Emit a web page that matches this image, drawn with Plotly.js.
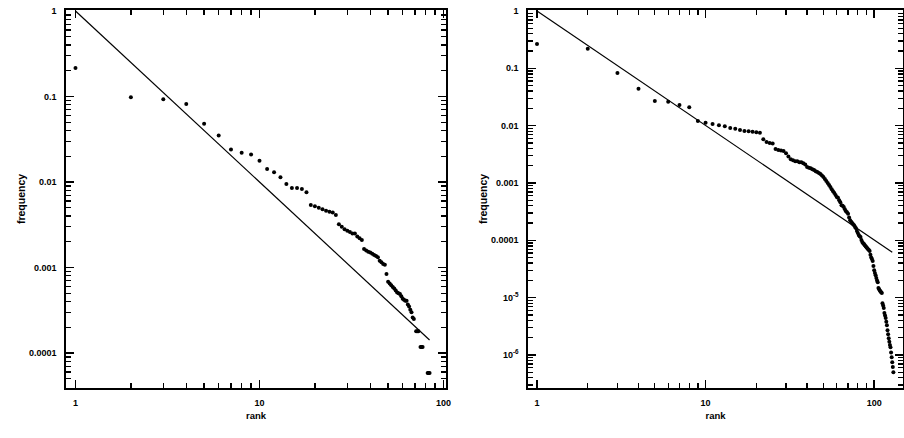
<!DOCTYPE html>
<html>
<head>
<meta charset="utf-8">
<script src="https://cdn.plot.ly/plotly-3.0.1.min.js"></script>
<style>html,body{margin:0;padding:0;background:#fff;}#chart{width:904px;height:438px;}</style>
</head>
<body>
<div id="chart"></div>
<script>
// ---- Left panel data ----
const leftRank = [1,2,3,4,5,6,7,8,9,10,11,12,13,14,15,16,17,18,19,20,21,22,23,24,25,26,27,28,29,30,
  31,32,33,34,35,36,37,38,39,40,41,42,43,44,45,46,47,48,49,50,51,52,53,54,55,56,57,58,59,60,
  61,62,63,64,65,66,67,68,69,71,72,73,75,76,77,82,83,84];
const leftFreq = [0.215,0.098,0.093,0.082,0.048,0.035,0.024,0.022,0.021,0.0177,0.0142,0.013,0.0114,0.0095,0.0085,0.0085,0.0083,0.0076,
  0.0054,0.0052,0.0050,0.0048,0.0046,0.0045,0.0044,0.0041,0.0032,0.0030,0.0028,0.0027,
  0.0026,0.0025,0.0025,0.0023,0.0022,0.0021,0.00165,0.00158,0.00153,0.0015,0.00145,0.0014,0.00136,0.00132,0.0012,0.00115,0.0011,0.00108,
  0.00084,0.00068,0.00065,0.00062,0.00059,0.00057,0.00054,0.00051,0.0005,0.00049,0.00046,0.00043,
  0.00042,0.00041,0.00041,0.00037,0.00035,0.00032,0.0003,0.00026,0.00025,0.00018,0.00018,0.00018,
  0.000118,0.000118,0.000118,0.0000584,0.0000584,0.0000584];
const leftFitRank = [1, 84];
const leftFitFreq = [1, 0.000142];

// ---- Right panel data ----
const rightRank = [];
for (let r = 1; r <= 130; r++) rightRank.push(r);
const rightFreq = [0.265,0.22,0.083,0.044,0.027,0.026,0.023,0.021,0.012,0.0112,
  0.0107,0.0102,0.0098,0.0091,0.0088,0.0084,0.0081,0.0080,0.0078,0.0077,
  0.0075,0.0058,0.0052,0.0050,0.0049,0.0039,0.00375,0.0037,0.0036,0.0033,
  0.0029,0.0026,0.0025,0.0024,0.0024,0.0023,0.0023,0.0022,0.0021,0.0019,
  0.00185,0.0018,0.00173,0.00168,0.0016,0.00155,0.0015,0.00143,0.00135,0.00127,
  0.00117,0.00108,0.0010,0.00092,0.00085,0.00078,0.00072,0.00067,0.00062,0.00057,
  0.00055,0.0005,0.00046,0.00041,0.0004,0.00038,0.00035,0.00032,0.00031,0.00029,
  0.00025,0.000225,0.00021,0.0002,0.00019,0.000184,0.00017,0.000163,0.000145,0.000134,
  0.000124,0.000118,0.000114,0.000101,0.000093,0.000089,0.000086,0.000082,0.000079,0.000076,
  0.000073,0.00007,0.000068,0.000065,0.000056,0.00005,0.000047,0.0000435,0.0000355,0.00003,
  0.000027,0.0000247,0.000022,0.00002,0.0000186,0.0000147,0.000014,0.0000133,0.0000128,0.0000124,
  0.000012,0.000008,0.0000073,0.0000066,0.0000054,0.0000049,0.0000044,0.0000038,0.0000033,0.0000027,
  0.0000023,0.00000196,0.0000017,0.0000015,0.00000137,0.0000011,0.00000091,0.00000075,0.00000062,0.0000005];
const rightFitRank = [1, 128];
const rightFitFreq = [1, 0.000062];

// ---- tick labels ----
const xTickVals = [1, 10, 100];
const xTickText = ['1', '10', '100'];
const leftYTickVals = [1, 0.1, 0.01, 0.001, 0.0001];
const leftYTickText = ['1', '0.1', '0.01', '0.001', '0.0001'];
const rightYTickVals = [1, 0.1, 0.01, 0.001, 0.0001, 0.00001, 0.000001];
const rightYTickText = ['1', '0.1', '0.01', '0.001', '0.0001', '10<sup>-5</sup>', '10<sup>-6</sup>'];

function minorVals(lo, hi) {
  const v = [];
  for (let e = lo; e <= hi; e++) for (let k = 2; k <= 9; k++) v.push(k * Math.pow(10, e));
  return v;
}

const font = {family: 'Liberation Sans, Arial, sans-serif', size: 9, color: '#000', weight: 'bold'};
const xTitleFont = {family: 'Liberation Sans, Arial, sans-serif', size: 9.5, color: '#000', weight: 'bold'};
const yTitleFont = {family: 'Liberation Sans, Arial, sans-serif', size: 10.5, color: '#000', weight: 'bold'};
const dotStyle = {color: '#000', size: 4};
const lineStyle = {color: '#000', width: 1.2};

const traces = [
  {x: leftRank, y: leftFreq, xaxis: 'x', yaxis: 'y', mode: 'markers', type: 'scatter', marker: dotStyle, showlegend: false},
  {x: leftFitRank, y: leftFitFreq, xaxis: 'x', yaxis: 'y', mode: 'lines', type: 'scatter', line: lineStyle, showlegend: false},
  {x: rightRank, y: rightFreq, xaxis: 'x2', yaxis: 'y2', mode: 'markers', type: 'scatter', marker: dotStyle, showlegend: false},
  {x: rightFitRank, y: rightFitFreq, xaxis: 'x2', yaxis: 'y2', mode: 'lines', type: 'scatter', line: lineStyle, showlegend: false},
  // empty traces that only carry the minor-tick overlay axes
  {x: [], y: [], xaxis: 'x3', yaxis: 'y3', mode: 'markers', type: 'scatter', showlegend: false, hoverinfo: 'skip'},
  {x: [], y: [], xaxis: 'x4', yaxis: 'y4', mode: 'markers', type: 'scatter', showlegend: false, hoverinfo: 'skip'}
];

function axisBase() {
  return {
    type: 'log', showline: true, linecolor: '#000', linewidth: 1.6, mirror: 'allticks',
    ticks: 'inside', ticklen: 8, tickwidth: 1.6, tickcolor: '#000', showgrid: false, zeroline: false,
    tickfont: font, tickmode: 'array', ticklabelstandoff: 6
  };
}
function minorAxis(over, anchor, domain, range, vals) {
  return {
    type: 'log', overlaying: over, anchor: anchor, domain: domain, range: range,
    showline: false, mirror: 'ticks', ticks: 'inside', ticklen: 5, tickwidth: 1.3, tickcolor: '#000',
    tickmode: 'array', tickvals: vals, showticklabels: false, showgrid: false
  };
}

const xDomL = [66/904, 446/904], xRangeL = [-0.0516, 2.0136];
const xDomR = [528/904, 903/904], xRangeR = [-0.0534, 2.171];
const yDom = [50/438, 428/438];
const yRangeL = [-4.409, 0.0117], yRangeR = [-6.576, 0.0174];

const layout = {
  width: 904, height: 438,
  margin: {l: 0, r: 0, t: 0, b: 0},
  xaxis: Object.assign(axisBase(), {
    domain: xDomL, range: xRangeL, anchor: 'y', tickvals: xTickVals, ticktext: xTickText,
    title: {text: 'rank', font: xTitleFont, standoff: 5}
  }),
  yaxis: Object.assign(axisBase(), {
    domain: yDom, range: yRangeL, anchor: 'x', tickvals: leftYTickVals, ticktext: leftYTickText,
    title: {text: 'frequency', font: yTitleFont, standoff: 1}
  }),
  xaxis2: Object.assign(axisBase(), {
    domain: xDomR, range: xRangeR, anchor: 'y2', tickvals: xTickVals, ticktext: xTickText,
    title: {text: 'rank', font: xTitleFont, standoff: 5}
  }),
  yaxis2: Object.assign(axisBase(), {
    domain: yDom, range: yRangeR, anchor: 'x2', tickvals: rightYTickVals, ticktext: rightYTickText,
    title: {text: 'frequency', font: yTitleFont, standoff: 1}
  }),
  xaxis3: minorAxis('x', 'y', xDomL, xRangeL, minorVals(0, 1)),
  yaxis3: minorAxis('y', 'x', yDom, yRangeL, minorVals(-5, -1)),
  xaxis4: minorAxis('x2', 'y2', xDomR, xRangeR, minorVals(0, 2)),
  yaxis4: minorAxis('y2', 'x2', yDom, yRangeR, minorVals(-7, -1)),
  showlegend: false
};

Plotly.newPlot('chart', traces, layout, {staticPlot: true, displayModeBar: false});
</script>
</body>
</html>
